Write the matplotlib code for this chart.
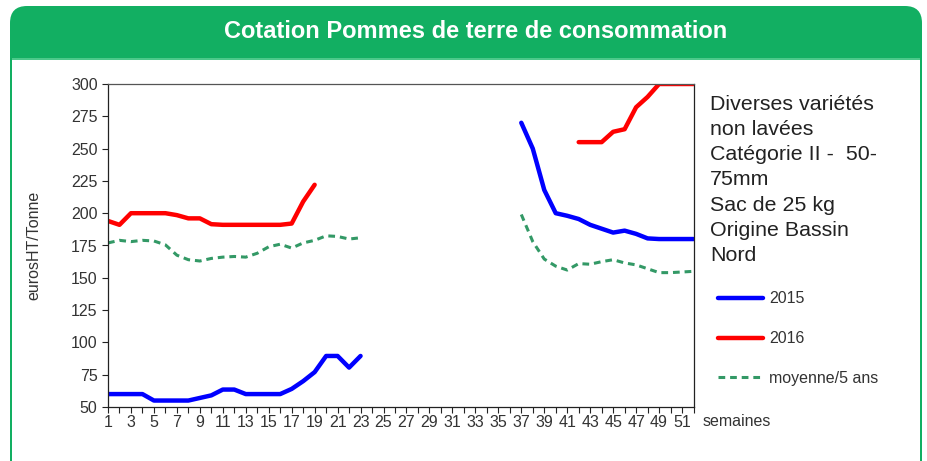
import numpy as np
import matplotlib
matplotlib.use("Agg")
import matplotlib.pyplot as plt
from matplotlib.patches import FancyBboxPatch, Rectangle

plt.rcParams["font.family"] = ["Liberation Sans", "DejaVu Sans"]

GREEN = "#12AF62"
TXT = "#333333"
nan = np.nan

weeks = np.arange(1, 53)

# prix 2015 (euros HT / tonne), semaines 1..52
y2015 = [60, 60, 60, 60, 55, 55, 55, 55, 57, 59, 63.5, 63.5, 60, 60, 60, 60,
         64, 70, 77, 89.5, 89.5, 80.5, 89.5,
         nan, nan, nan, nan, nan, nan, nan, nan, nan, nan, nan, nan, nan,
         270, 250, 218, 200, 198, 195.5, 191, 188, 185, 186.5, 184, 180.5,
         180, 180, 180, 180]

y2016 = [194, 191, 200, 200, 200, 200, 198.5, 196, 196, 191.5, 191, 191,
         191, 191, 191, 191, 192, 209, 222,
         nan, nan, nan, nan, nan, nan, nan, nan, nan, nan, nan, nan, nan,
         nan, nan, nan, nan, nan, nan, nan, nan, nan,
         255, 255, 255, 263, 265, 282, 290, 300, 300, 300, 300]

y_moy = [177, 179, 178, 179, 178.5, 175.5, 167.5, 164, 163, 165, 166, 166.5,
         166, 169, 174, 176, 173, 177, 179, 182.5, 182, 180, 181,
         nan, nan, nan, nan, nan, nan, nan, nan, nan, nan, nan, nan, nan,
         199, 178, 164.5, 159, 156, 161, 160.5, 162.5, 164, 161.5, 160, 157,
         154, 154, 154.5, 155]

yticks = np.arange(50, 301, 25)
xtick_labels = np.arange(1, 52, 2)

W, H = 9.28, 4.61
fig = plt.figure(figsize=(W, H), dpi=100)
fig.patch.set_facecolor("white")

# cadre vert arrondi + bandeau titre (coordonnees en pouces)
tr = fig.dpi_scale_trans
frame = FancyBboxPatch((0.10, -1.0), 9.12, H - 0.06 + 1.0,
                       boxstyle="round,pad=0,rounding_size=0.17",
                       transform=tr, facecolor=GREEN, edgecolor="none", zorder=-3)
fig.patches.append(frame)
fig.patches.append(Rectangle((0.12, -1.0), 9.08, H - 0.60 + 1.0, transform=tr,
                             facecolor="white", edgecolor="none", zorder=-2))
fig.patches.append(Rectangle((0.12, H - 0.60), 9.08, 0.015, transform=tr,
                             facecolor="#4CC98A", edgecolor="none", zorder=-2))
fig.text(0.512, 1 - 32 / 461, "Cotation Pommes de terre de consommation",
         color="white", fontsize=17, fontweight="bold", ha="center", va="center")

ax = fig.add_axes([108 / 928, 1 - 407 / 461, (693.5 - 108) / 928, (407 - 84) / 461])
ax.set_facecolor("white")
ax.plot(weeks, y2015, color="#0000FF", lw=3.2, solid_capstyle="round", label="2015")
ax.plot(weeks, y2016, color="#FF0000", lw=3.2, solid_capstyle="round", label="2016")
ax.plot(weeks, y_moy, color="#339966", lw=2.2, ls=(0, (2.2, 1.6)), label="moyenne/5 ans")

ax.set_xlim(1, 52)
ax.set_ylim(50, 300)
ax.set_yticks(yticks)
ax.set_xticks(weeks, minor=True)
ax.set_xticks(xtick_labels)
ax.tick_params(axis="both", which="both", direction="out", length=4, width=0.8,
               colors="#222222", labelcolor=TXT, labelsize=11.5)
ax.tick_params(axis="x", pad=2)
for s in ax.spines.values():
    s.set_color("#222222")
    s.set_linewidth(0.9)
ax.spines["top"].set_color("#555555")

ax.set_ylabel("eurosHT/Tonne", fontsize=11.5, color=TXT, labelpad=21)
fig.text(703 / 928, 1 - 421 / 461, "semaines", fontsize=11.5, color=TXT,
         ha="left", va="center")

fig.text(710 / 928, 1 - 95 / 461,
         "Diverses variétés\nnon lavées\nCatégorie II -  50-\n75mm\nSac de 25 kg\nOrigine Bassin\nNord",
         fontsize=15.4, color="#222222", ha="left", va="top", linespacing=1.41)

leg = ax.legend(loc="upper left", bbox_to_anchor=(704 / 928, 1 - 277 / 461),
                bbox_transform=fig.transFigure, frameon=False, fontsize=11.5,
                handlelength=2.8, labelspacing=1.55, handletextpad=0.4)
for t in leg.get_texts():
    t.set_color(TXT)

fig.savefig("out.png", dpi=100)
